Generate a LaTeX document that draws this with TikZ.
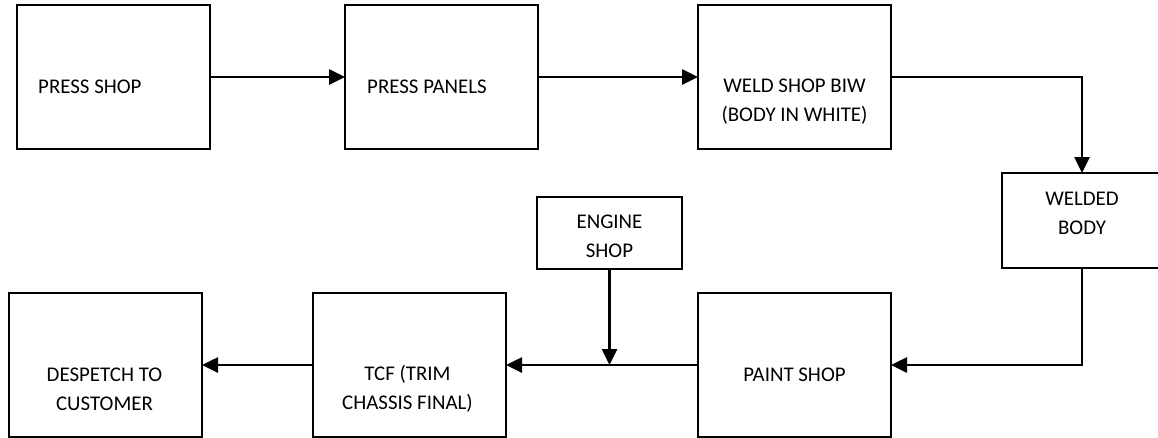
\documentclass[tikz,border=0pt]{standalone}
\usepackage{fontspec}
\setmainfont{Carlito}
\usepackage{tikz}
\usetikzlibrary{shapes,arrows.meta,positioning,calc}

\tikzset{
  box/.style={rectangle, draw, line width=2pt, minimum width=193pt, minimum height=144pt, inner sep=0pt, outer sep=0pt},
  txt/.style={align=center, inner sep=0pt, font=\fontsize{20.9pt}{29pt}\selectfont},
  flow/.style={line width=2.6pt, -{Triangle[length=16pt, width=15pt]}}
}

\begin{document}
\begin{tikzpicture}[x=1pt, y=-1pt]
    \useasboundingbox (0,0) rectangle (1158,437);
    % top row
    \node [box, label={[txt, anchor=west, xshift=21pt, yshift=-10pt]west:PRESS SHOP}] (press) at (113.5,77) {};
    \node [box, right=135pt of press, label={[txt, anchor=west, xshift=22pt, yshift=-10pt]west:PRESS PANELS}] (panels) {};
    \node [box, right=160pt of panels, label={[txt, yshift=-25pt]center:WELD SHOP BIW\\(BODY IN WHITE)}] (weld) {};
    \node [box, minimum width=160pt, minimum height=95pt, label={[txt, yshift=7pt]center:WELDED\\BODY}] (welded) at (1082,220.5) {};
    % bottom row
    \node [box, below=144pt of weld, label={[txt, yshift=-10pt]center:PAINT SHOP}] (paint) {};
    \node [box, left=192pt of paint, label={[txt, xshift=-2pt, yshift=-24pt]center:TCF (TRIM\\CHASSIS FINAL)}] (tcf) {};
    \node [box, left=111pt of tcf, label={[txt, xshift=-1pt, yshift=-24pt]center:DESPETCH TO\\CUSTOMER}] (despatch) {};
    \node [box, minimum width=145pt, minimum height=72pt, label={[txt, yshift=-3pt]center:ENGINE\\SHOP}] (engine) at (609.5,233) {};

    \draw [flow] (press) -- (panels);
    \draw [flow] (panels) -- (weld);
    \draw [flow] (weld.east) -| (welded.north);
    \draw [flow] (welded.south) |- (paint.east);
    \draw [flow] (paint.west) -- (tcf.east);
    \draw [flow] (engine.south) -- (engine.south |- paint.west);
    \draw [flow] (tcf.west) -- (despatch.east);
\end{tikzpicture}
\end{document}
